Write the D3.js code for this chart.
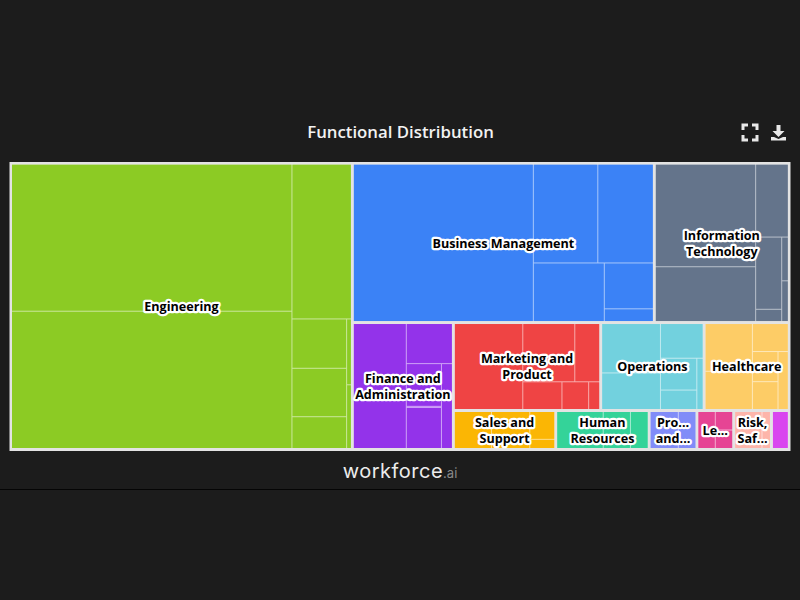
<!DOCTYPE html>
<html lang="en">
  <head>
    <title>Functional Distribution</title>
    <script src="https://cdn.jsdelivr.net/npm/d3@7"></script>
    <style>
      html, body { margin: 0; padding: 0; background: #1c1c1c; }
    </style>
  </head>
  <body>
    <div id="chart"></div>
    <script>
      // relative area of each cell
      let categories = ['Engineering', 'Business Management', 'Information Technology',
        'Finance and Administration', 'Marketing and Product', 'Operations', 'Healthcare',
        'Sales and Support', 'Human Resources', 'Project and Program', 'Legal', 'Risk, Safety', 'Other']
      let labels = [['Engineering'], ['Business Management'], ['Information', 'Technology'],
        ['Finance and', 'Administration'], ['Marketing and', 'Product'], ['Operations'], ['Healthcare'],
        ['Sales and', 'Support'], ['Human', 'Resources'], ['Pro...', 'and...'], ['Le...'], ['Risk,', 'Saf...'], []]
      let colors = ['#8ccb24', '#3b82f6', '#64748b', '#9333ea', '#ef4444', '#72d1de', '#fdcc66',
        '#fbb604', '#34d399', '#818cf8', '#e64494', '#fdb5aa', '#d946ef']

      let engineering = [408, 381, 91, 26.7, 26.2, 17.2, 3.1, 3]
      let business = [282, 63.4, 54.6, 41.4, 22.4, 6.2]
      let infoTech = [103.3, 55.2, 23.9, 18.9, 3.2, 2.9, 2.7]
      let finance = [67, 18.7, 15.2, 0.4, 14.6, 9.4]
      let marketing = [59.6, 30.7, 14.7, 11, 7.5, 3.1]
      let operations = [29.6, 21.9, 15.1, 11.8, 7.2, 3.3]
      let healthcare = [23.1, 18.5, 10.3, 7.9, 7.3, 6.1]
      let sales = [14.4, 14.9, 7.3, 2.4]
      let humanRes = [18.1, 10.6, 6.9]
      let project = [11.2, 7]
      let legal = [7, 3.5, 3.5]
      let risk = [11, 3.4]
      let other = [6.8]

      let groups = [engineering, business, infoTech, finance, marketing, operations, healthcare,
        sales, humanRes, project, legal, risk, other]

      // how each group was cut: x = side by side, y = stacked, numbers index the group's values
      let cuts = [
        ['x', ['y', 0, 1], ['y', 2, ['x', ['y', 3, 4, 5], ['y', 6, 7]]]],
        ['x', 0, ['y', ['x', 1, 2], ['x', 3, ['y', 4, 5]]]],
        ['x', ['y', 0, 1], ['y', 2, ['x', ['y', 3, 4], ['y', 5, 6]]]],
        ['x', 0, ['y', 1, ['x', ['y', 2, 3, 4], 5]]],
        ['x', 0, ['y', ['x', 1, 2], ['x', 3, 4, 5]]],
        ['x', ['y', 0, 1], ['y', 2, ['x', ['y', 3, 4], 5]]],
        ['x', ['y', 0, 1], ['y', 2, ['x', ['y', 3, 4], 5]]],
        ['x', 0, 1, ['y', 2, 3]],
        ['x', 0, 1, 2],
        ['x', 0, 1],
        ['x', 0, ['y', 1, 2]],
        ['x', 0, 1],
        ['x', 0]
      ]
      let topCut = ['x', 0, ['y', ['x', 1, 2], ['x', 3, ['y', ['x', 4, 5, 6], ['x', 7, 8, 9, 10, 11, 12]]]]]

      let width = 800
      let height = 600
      let svg = d3.select('#chart').append('svg')
        .attr('width', width)
        .attr('height', height)
        .style('display', 'block')

      function buildCell(cut, values) {
        if (typeof cut === 'number') return { value: values[cut] }
        return { dir: cut[0], children: cut.slice(1).map((c) => buildCell(c, values)) }
      }
      function buildTop(cut) {
        if (typeof cut === 'number') {
          let node = buildCell(cuts[cut], groups[cut])
          node.category = cut
          return node
        }
        return { dir: cut[0], children: cut.slice(1).map(buildTop) }
      }

      let root = d3.hierarchy(buildTop(topCut)).sum((d) => d.value || 0)

      function isInsideCategory(node) {
        return node.ancestors().some((a) => a.data.category !== undefined)
      }

      d3.treemap()
        .size([775.8, 283.3])
        .paddingInner((node) => (isInsideCategory(node) ? 1 : 3))
        .tile((node, x0, y0, x1, y1) => {
          if (node.data.dir === 'x') d3.treemapDice(node, x0, y0, x1, y1)
          else d3.treemapSlice(node, x0, y0, x1, y1)
        })(root)

      let catNodes = root.descendants().filter((d) => d.data.category !== undefined)

      svg.append('rect')
        .attr('x', 9.5)
        .attr('y', 162)
        .attr('width', 781)
        .attr('height', 289)
        .attr('fill', '#e3e3e3')

      let chart = svg.append('g').attr('transform', 'translate(12,164.7)')

      // gaps between categories are light grey, gaps inside take a tint of the cell colour
      catNodes.forEach((cat) => {
        let g = chart.append('g')
        let color = colors[cat.data.category]
        g.append('rect')
          .attr('x', cat.x0)
          .attr('y', cat.y0)
          .attr('width', cat.x1 - cat.x0)
          .attr('height', cat.y1 - cat.y0)
          .attr('fill', d3.interpolateRgb(color, '#ffffff')(0.55))
        g.selectAll('rect.cell')
          .data(cat.leaves())
          .enter()
          .append('rect')
          .attr('class', 'cell')
          .attr('x', (d) => d.x0)
          .attr('y', (d) => d.y0)
          .attr('width', (d) => Math.max(0, d.x1 - d.x0))
          .attr('height', (d) => Math.max(0, d.y1 - d.y0))
          .attr('fill', color)
      })

      catNodes.forEach((cat) => {
        let lines = labels[cat.data.category]
        let cx = (cat.x0 + cat.x1) / 2
        let cy = (cat.y0 + cat.y1) / 2
        lines.forEach((line, i) => {
          chart.append('text')
            .attr('x', cx)
            .attr('y', cy + (i - (lines.length - 1) / 2) * 16 + 5)
            .attr('text-anchor', 'middle')
            .attr('font-family', 'Open Sans')
            .attr('font-weight', 700)
            .attr('font-size', '12.6px')
            .attr('fill', '#000')
            .attr('stroke', '#fff')
            .attr('stroke-width', 4.5)
            .attr('stroke-linejoin', 'round')
            .attr('paint-order', 'stroke')
            .text(line)
        })
      })

      svg.append('text')
        .attr('x', 400.5)
        .attr('y', 138)
        .attr('text-anchor', 'middle')
        .attr('font-family', 'Open Sans')
        .attr('font-weight', 600)
        .attr('font-size', '16.8px')
        .attr('fill', '#f2f2f2')
        .text('Functional Distribution')

      // fullscreen and download icons
      svg.append('path')
        .attr('d', 'M743 130v-5h5M752 125h5v5M757 135v5h-5M748 140h-5v-5')
        .attr('fill', 'none')
        .attr('stroke', '#e8e8e8')
        .attr('stroke-width', 3)
      svg.append('path')
        .attr('d', 'M776.5 125h4v6h4l-6 6l-6-6h4zM771 137h3l4.5 2l4.5-2h3v3.5h-15z')
        .attr('fill', '#e8e8e8')

      let logo = svg.append('text')
        .attr('x', 400)
        .attr('y', 478)
        .attr('text-anchor', 'middle')
        .attr('font-family', 'Inter')
        .attr('font-size', '20px')
        .attr('fill', '#ececec')
      logo.append('tspan').attr('letter-spacing', '0.5px').text('workforce')
      logo.append('tspan').attr('font-size', '13px').attr('fill', '#8a8a8a').text('.ai')

      svg.append('line')
        .attr('x1', 0)
        .attr('x2', width)
        .attr('y1', 489.5)
        .attr('y2', 489.5)
        .attr('stroke', '#050505')
    </script>
  </body>
</html>
